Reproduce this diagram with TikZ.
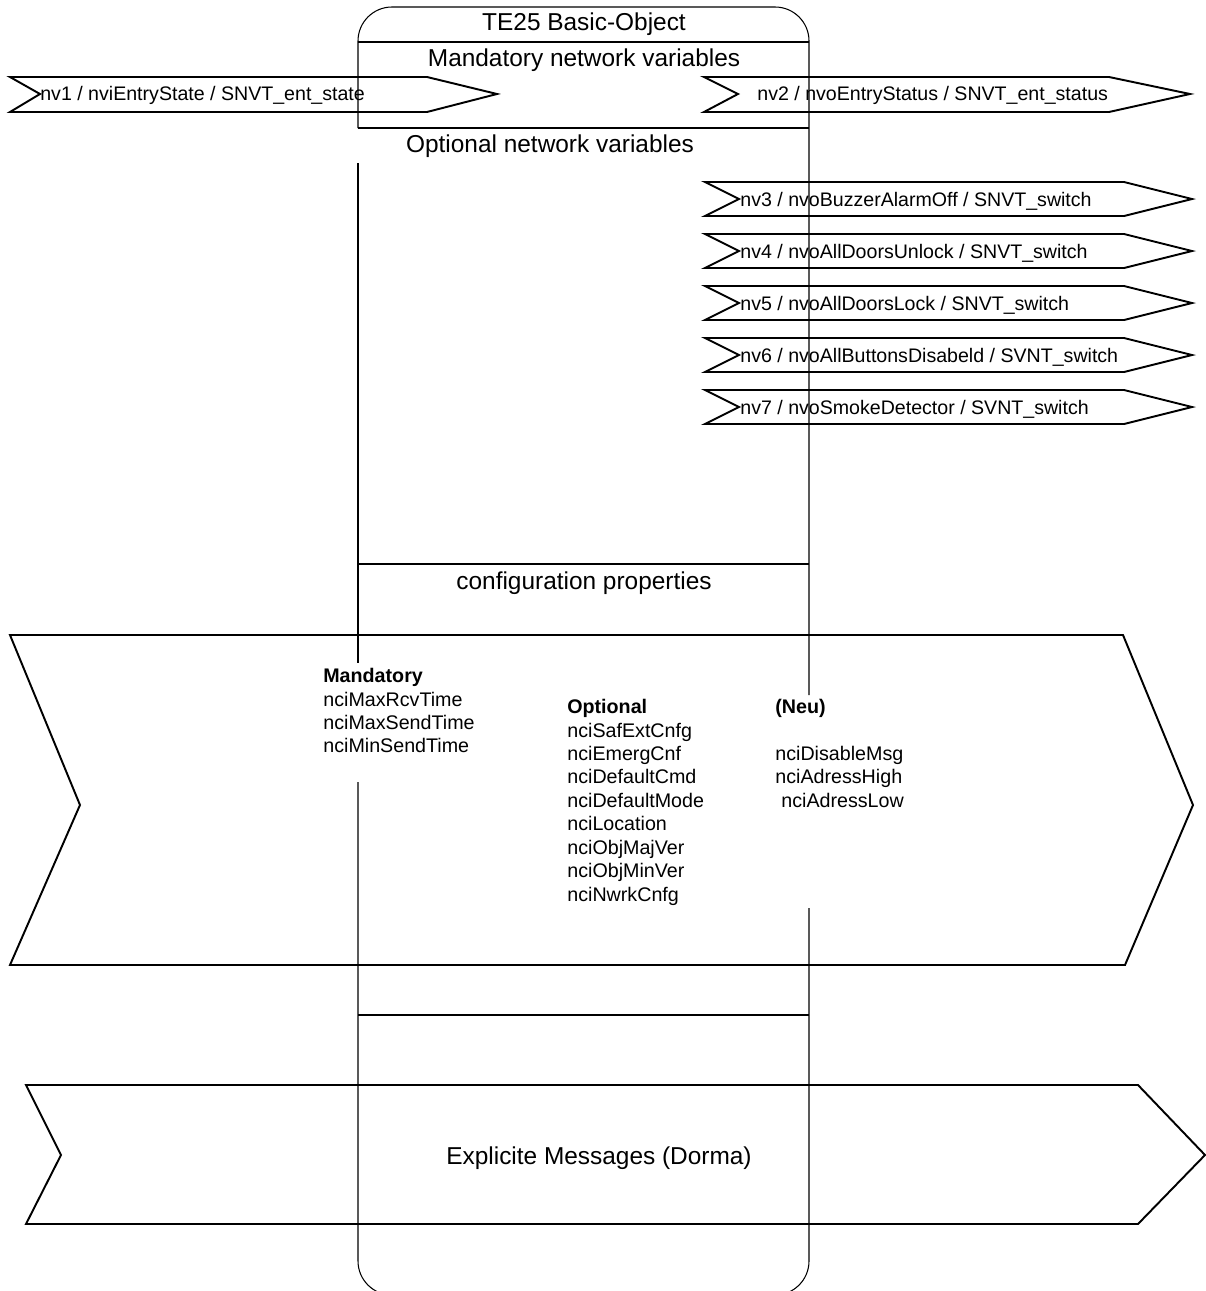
\documentclass[tikz,border=0pt]{standalone}
\usepackage{fontspec}
\setmainfont{Liberation Sans}

\begin{document}
\begin{tikzpicture}[x=0.02cm,y=-0.02cm,
  boxline/.style={line width=0.6pt},
  sepline/.style={line width=1pt},
  flag/.style={line width=1.1pt,line join=miter},
  bigtext/.style={font=\fontsize{13.9}{16}\selectfont,anchor=base,inner sep=0pt},
  nvtext/.style={font=\fontsize{11.15}{13}\selectfont,anchor=base west,inner sep=0pt},
  ncitext/.style={font=\fontsize{11.2}{13.35}\selectfont,align=left,anchor=north west,inner sep=0pt}]

\useasboundingbox (0,0) rectangle (1206,1291);

% Draw the object box (the gaps are where the texts sit)
\draw[boxline,rounded corners=0.68cm] (358,128) -- (358,7) -- (809,7) -- (809,695);
\draw[boxline] (358,163) -- (358,663);
\draw[boxline,rounded corners=0.68cm] (358,782) -- (358,1295) -- (809,1295) -- (809,908);

% Draw the separators
\draw[sepline] (358,42) -- (809,42);
\draw[sepline] (358,128) -- (809,128);
\draw[sepline] (358,564) -- (809,564);
\draw[sepline] (358,1015) -- (809,1015);

% Draw the headings
\node[bigtext] (title) at (584,31) {TE25 Basic-Object};
\node[bigtext] (mandvars) at (584,67) {Mandatory network variables};
\node[bigtext] (optvars) at (550,153) {Optional network variables};
\node[bigtext] (cfgprops) at (584,589) {configuration properties};

% Draw the mandatory network variables
\draw[flag] (10,77) -- (427,77) -- (497,94) -- (427,112) -- (10,112) -- (40,94) -- cycle;
\draw[flag] (704,77) -- (1109,77) -- (1190,94) -- (1109,112) -- (704,112) -- (738,94) -- cycle;
\node[nvtext] (nv1) at (40,101) {nv1 / nviEntryState / SNVT\_ent\_state};
\node[nvtext] (nv2) at (757,101) {nv2 / nvoEntryStatus / SNVT\_ent\_status};

% Draw the optional network variables
\draw[flag] (705,182) -- (1124,182) -- (1192,199) -- (1124,216) -- (705,216) -- (739,199) -- cycle;
\draw[flag] (705,234) -- (1124,234) -- (1192,251) -- (1124,268) -- (705,268) -- (739,251) -- cycle;
\draw[flag] (705,286) -- (1124,286) -- (1192,303) -- (1124,320) -- (705,320) -- (739,303) -- cycle;
\draw[flag] (705,338) -- (1124,338) -- (1192,355) -- (1124,372) -- (705,372) -- (739,355) -- cycle;
\draw[flag] (705,390) -- (1124,390) -- (1192,407) -- (1124,424) -- (705,424) -- (739,407) -- cycle;
\node[nvtext] (nv3) at (740,206) {nv3 / nvoBuzzerAlarmOff / SNVT\_switch};
\node[nvtext] (nv4) at (740,258) {nv4 / nvoAllDoorsUnlock / SNVT\_switch};
\node[nvtext] (nv5) at (740,310) {nv5 / nvoAllDoorsLock / SNVT\_switch};
\node[nvtext] (nv6) at (740,362) {nv6 / nvoAllButtonsDisabeld / SVNT\_switch};
\node[nvtext] (nv7) at (740,414) {nv7 / nvoSmokeDetector / SVNT\_switch};

% Draw the configuration properties
\draw[flag] (10,635) -- (1123,635) -- (1193,805) -- (1125,965) -- (10,965) -- (80,805) -- cycle;
\node[ncitext] (mandcfg) at (323,668) {\textbf{Mandatory}\\nciMaxRcvTime\\nciMaxSendTime\\nciMinSendTime};
\node[ncitext] (optcfg) at (567,699) {\textbf{Optional}\\nciSafExtCnfg\\nciEmergCnf\\nciDefaultCmd\\nciDefaultMode\\nciLocation\\nciObjMajVer\\nciObjMinVer\\nciNwrkCnfg};
\node[ncitext] (neucfg) at (775,699) {\textbf{(Neu)}\\[13.35pt]nciDisableMsg\\nciAdressHigh\\\hspace*{0.12cm}nciAdressLow};

% Draw the explicit messages
\draw[flag] (26,1085) -- (1138,1085) -- (1205,1155) -- (1138,1224) -- (26,1224) -- (61,1155) -- cycle;
\node[bigtext] (explmsg) at (599,1164) {Explicite Messages (Dorma)};

\end{tikzpicture}
\end{document}
